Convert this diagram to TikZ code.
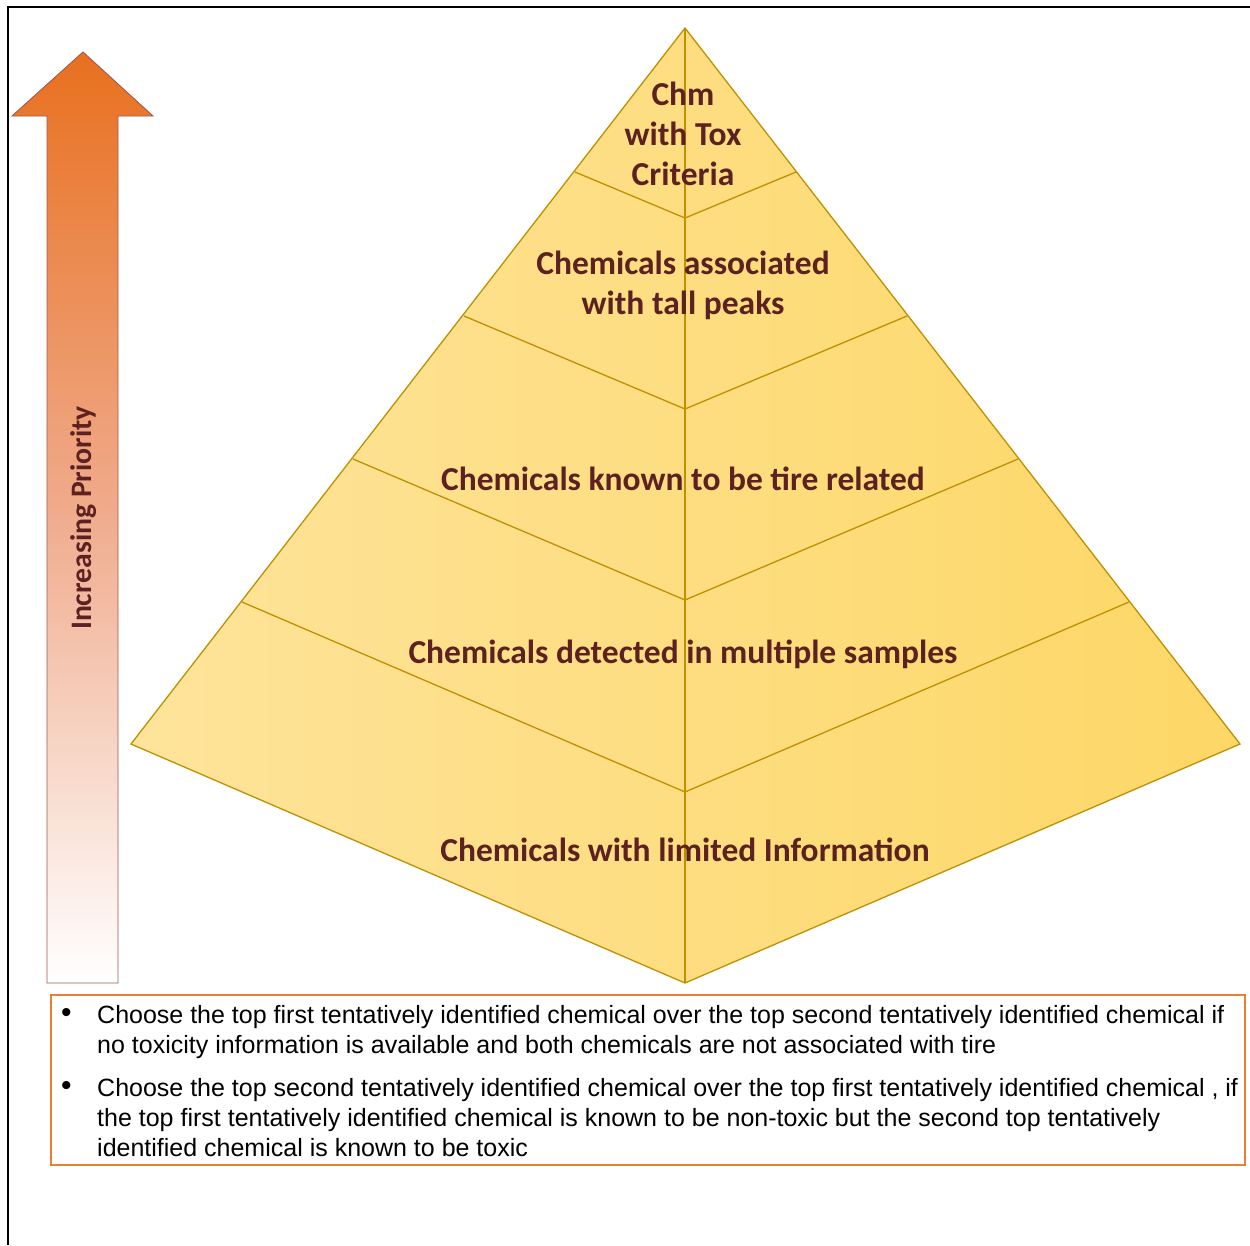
\documentclass[tikz,border=0pt]{standalone}
\usepackage{fontspec}
\setmainfont{Liberation Sans}
\newfontfamily\tierfont{Carlito}
\usetikzlibrary{calc}
\definecolor{tiertext}{HTML}{5C2120}
\definecolor{tierline}{HTML}{BF9000}
\definecolor{tierlight}{HTML}{FEE49B}
\definecolor{tierdark}{HTML}{FDD766}
\definecolor{arrowtop}{HTML}{E8701F}
\definecolor{arrowmid}{HTML}{F0AC8E}
\definecolor{arrowedge}{HTML}{9E5A52}
\definecolor{boxedge}{HTML}{ED7D31}
\newcommand{\bigbul}{\hspace*{4pt}\raisebox{1pt}{\fontsize{30}{30}\selectfont\textbullet}}
\tikzset{
  tierlabel/.style={text=tiertext, font=\tierfont\bfseries\fontsize{33.5}{40}\selectfont, align=center, inner sep=0pt},
  tieredge/.style={draw=tierline, line width=1.3pt},
  notebox/.style={draw=boxedge, line width=1.3pt},
}
\begin{document}
\begin{tikzpicture}[x=1pt, y=-1pt]
\useasboundingbox (0,0) rectangle (1250,1245);
% frame (top and left rules)
\draw[line width=2.2pt] (8,1245) -- (8,7) -- (1250,7);

% priority arrow
\shade[top color=arrowtop, bottom color=white, middle color=arrowmid, draw=arrowedge, line width=0.9pt]
  (83,52) -- (153,116) -- (118,116) -- (118,983) -- (47,983) -- (47,116) -- (12,116) -- cycle;
\node[rotate=90, text=tiertext, font=\tierfont\bfseries\fontsize{29.7}{34}\selectfont, inner sep=0pt] (prio) at (84,518) {Increasing Priority};

% pyramid body with horizontal shading
\shade[left color=tierlight, middle color=tierlight, right color=tierdark]
  (685,28) -- (1240,744) -- (685,983) -- (131,744) -- cycle;
% tier boundaries
\coordinate (apex) at (685,28);
\coordinate (base) at (685,983);
\foreach \xl/\yl/\yc/\xr in {575/172/218/796, 464/316/409/907, 353/459/600/1018, 242/602/792/1129} {
  \draw[tieredge] (\xl,\yl) -- (685,\yc) -- (\xr,\yl);
}
\draw[tieredge, line join=miter] (apex) -- (1240,744) -- (base) -- (131,744) -- cycle;
\draw[tieredge] (apex) -- (base);

% tier labels
\node[tierlabel] (t1) at (683,134) {Chm\\with Tox\\Criteria};
\node[tierlabel] (t2) at (683,285) {Chemicals associated\\with tall peaks};
\node[tierlabel] (t3) at (683,479) {Chemicals known to be tire related};
\node[tierlabel] (t4) at (683,654) {Chemicals detected in multiple samples};
\node[tierlabel] (t5) at (685,850) {Chemicals with limited Information};

% selection rules
\draw[notebox] (51,995) rectangle (1245,1165);
\node[anchor=north west, inner sep=0pt, font=\fontsize{25}{30}\selectfont] (rules) at (57,1002) {%
\begin{tabular}{@{}p{40pt}@{}l@{}}
\bigbul & Choose the top first tentatively identified chemical over the top second tentatively identified chemical if\\
 & no toxicity information is available and both chemicals are not associated with tire\\[13pt]
\bigbul & Choose the top second tentatively identified chemical over the top first tentatively identified chemical , if\\
 & the top first tentatively identified chemical is known to be non-toxic but the second top tentatively\\
 & identified chemical is known to be toxic
\end{tabular}};
\end{tikzpicture}
\end{document}
